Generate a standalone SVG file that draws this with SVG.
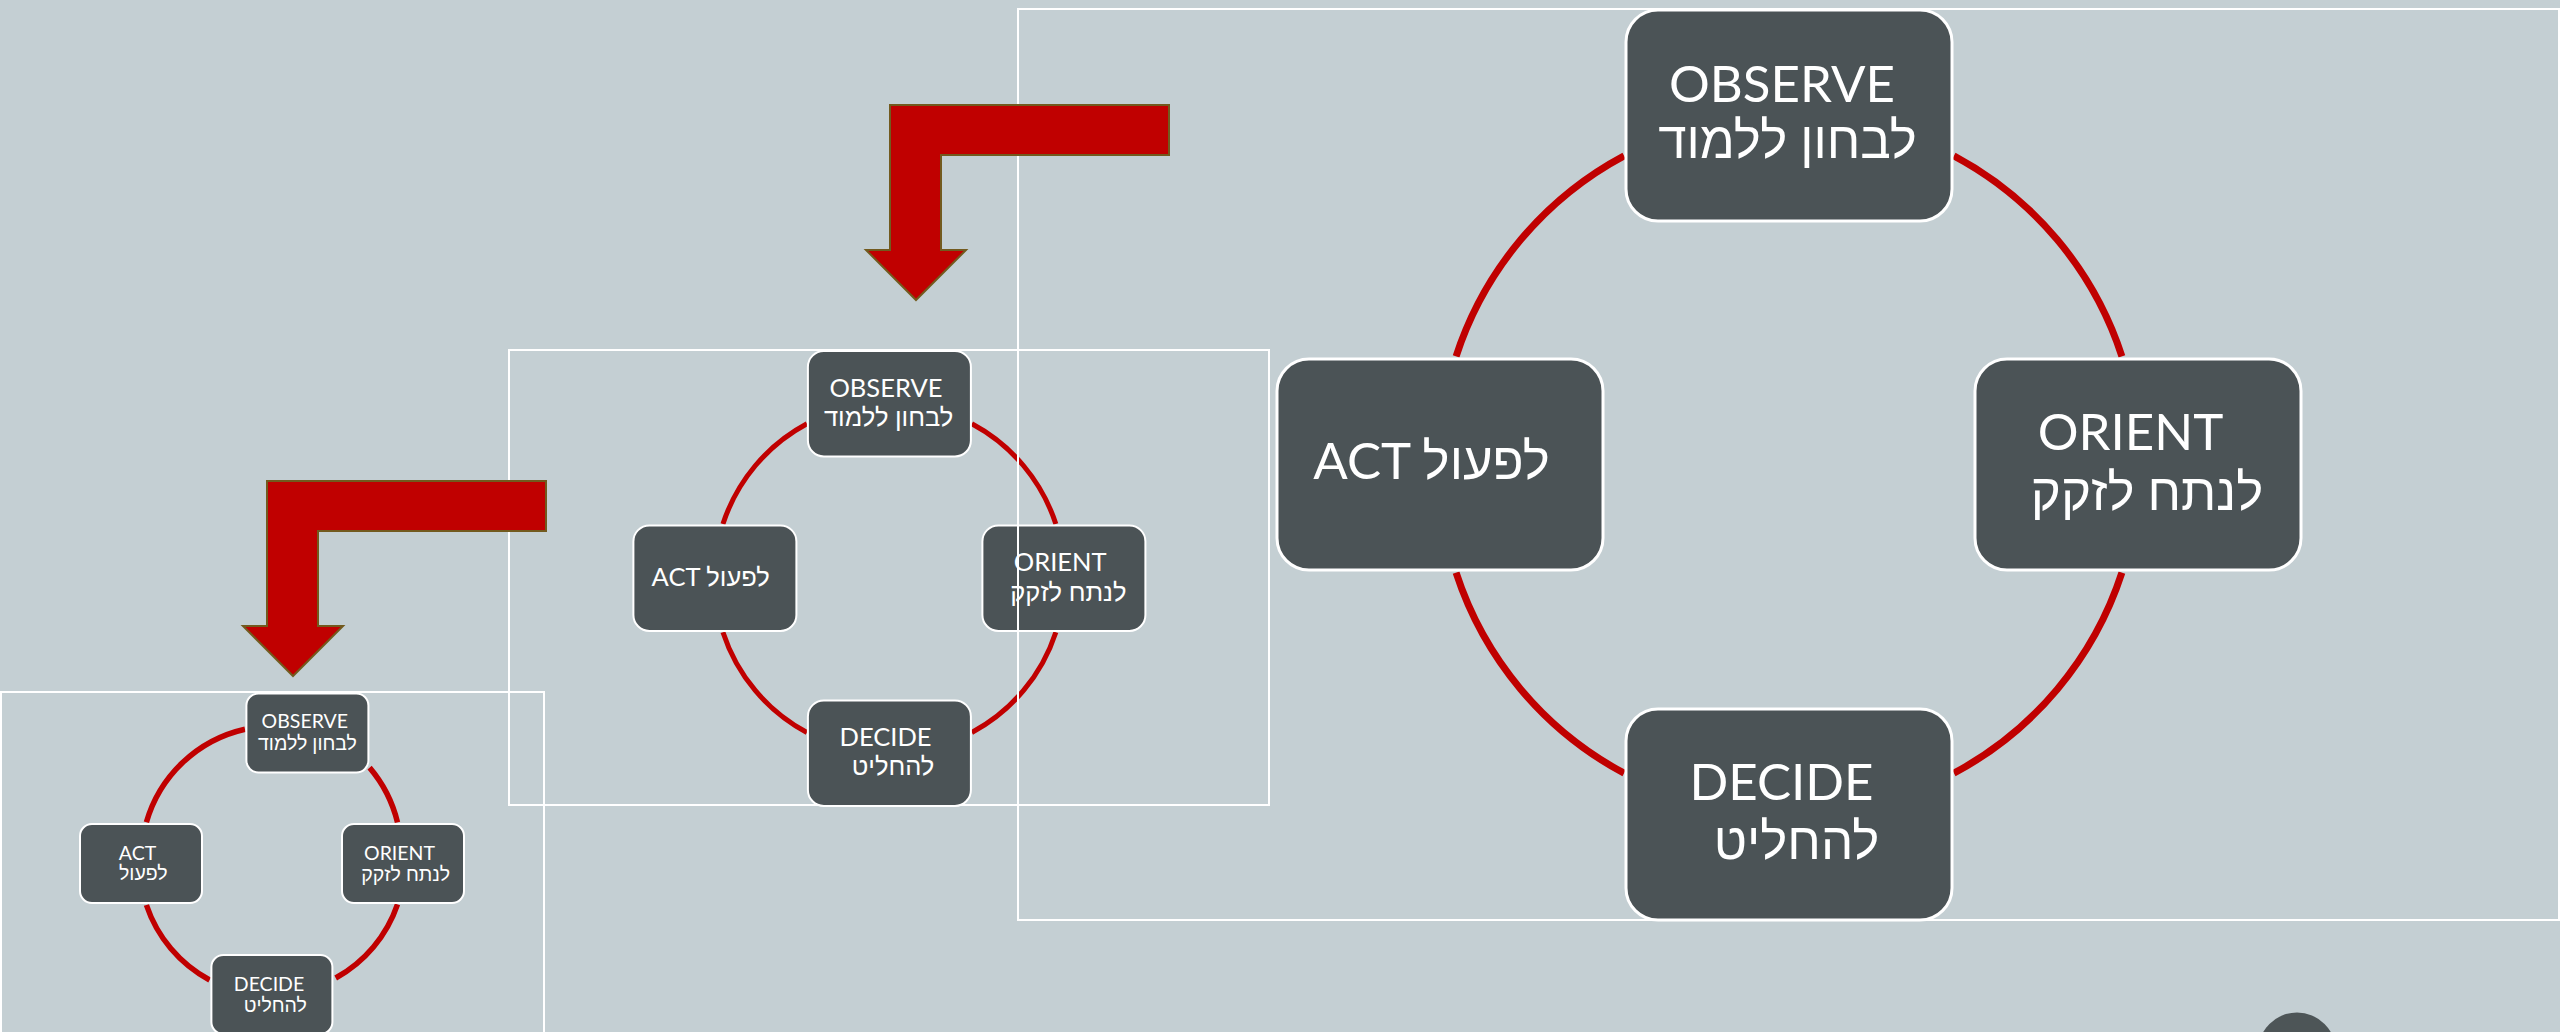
<svg xmlns="http://www.w3.org/2000/svg" width="2560" height="1032" viewBox="0 0 2560 1032">
<defs>
<style>
.bg{fill:#C4CFD3}
.frame{fill:none;stroke:#FFFFFF;stroke-width:2}
.node{fill:#4B5356;stroke:#FFFFFF}
.arc{fill:none;stroke:#C00000}
.t{fill:#FFFFFF;font-family:Lato,"Liberation Sans","DejaVu Sans",sans-serif;text-anchor:middle}
.big{font-size:51px}
.mid{font-size:25.5px}
.sml{font-size:19.5px}
.arrow{fill:#C00000;stroke:#725A1E;stroke-width:2;stroke-linejoin:miter}
</style>
<path id="bent" d="M890 105 H1169 V155 H941 V250 H966 L916 300 L866 250 H890 Z"/>
</defs>
<rect class="bg" x="0" y="0" width="2560" height="1032"/>

<!-- small diagram -->
<g id="small-diagram">
<rect class="frame" x="1" y="692" width="543" height="360"/>
<g id="small-connectors">
<path class="arc" stroke-width="5.5" d="M146.4 822.3 A133 133 0 0 1 245 729.2"/>
<path class="arc" stroke-width="5.5" d="M369.6 767.6 A133 133 0 0 1 397.5 822.3"/>
<path class="arc" stroke-width="5.5" d="M397.5 904.4 A133 133 0 0 1 335.7 978"/>
<path class="arc" stroke-width="5.5" d="M209.6 980 A133 133 0 0 1 146.4 905"/>
</g>
<g id="small-observe">
<rect class="node" stroke-width="2" x="246.4" y="693.5" width="122" height="79" rx="12"/>
<text class="t sml" x="304.8" y="728">OBSERVE</text>
<text class="t sml" x="307.5" y="750">לבחון ללמוד</text>
</g>
<g id="small-orient">
<rect class="node" stroke-width="2" x="342" y="824" width="122" height="79" rx="12"/>
<text class="t sml" x="399.5" y="860">ORIENT</text>
<text class="t sml" x="405.7" y="881">לנתח לזקק</text>
</g>
<g id="small-act">
<rect class="node" stroke-width="2" x="80" y="824" width="122" height="79" rx="12"/>
<text class="t sml" x="137.5" y="860">ACT</text>
<text class="t sml" x="143.3" y="880">לפעול</text>
</g>
<g id="small-decide">
<rect class="node" stroke-width="2" x="211.4" y="955" width="121" height="79" rx="12"/>
<text class="t sml" x="269" y="991">DECIDE</text>
<text class="t sml" x="275.3" y="1011.5">להחליט</text>
</g>
</g>

<!-- medium diagram -->
<g id="medium-diagram">
<rect class="frame" x="509" y="350" width="760" height="455"/>
<g id="medium-connectors">
<path class="arc" stroke-width="5" d="M971.85 423.75 A175 175 0 0 1 1055.85 524"/>
<path class="arc" stroke-width="5" d="M1055.85 632.2 A175 175 0 0 1 971.85 732.45"/>
<path class="arc" stroke-width="5" d="M806.95 732.45 A175 175 0 0 1 722.95 632.2"/>
<path class="arc" stroke-width="5" d="M722.95 524 A175 175 0 0 1 806.95 423.75"/>
</g>
<g id="medium-observe">
<rect class="node" stroke-width="2" x="807.9" y="350.9" width="163" height="105.5" rx="16"/>
<text class="t mid" x="885.9" y="396.8">OBSERVE</text>
<text class="t mid" x="888.6" y="425.5">לבחון ללמוד</text>
</g>
<g id="medium-orient">
<rect class="node" stroke-width="2" x="982.4" y="525.4" width="163" height="105.5" rx="16"/>
<text class="t mid" x="1060.2" y="570.9">ORIENT</text>
<text class="t mid" x="1068.4" y="600.9">לנתח לזקק</text>
</g>
<g id="medium-act">
<rect class="node" stroke-width="2" x="633.4" y="525.4" width="163" height="105.5" rx="16"/>
<text class="t mid" x="710.7" y="585.5">ACT לפעול</text>
</g>
<g id="medium-decide">
<rect class="node" stroke-width="2" x="807.9" y="700.4" width="163" height="105.5" rx="16"/>
<text class="t mid" x="885.6" y="746">DECIDE</text>
<text class="t mid" x="893" y="775.4">להחליט</text>
</g>
</g>

<!-- large diagram -->
<g id="large-diagram">
<rect class="frame" x="1018" y="9" width="1541" height="911"/>
<g id="large-connectors">
<path class="arc" stroke-width="7" d="M1953.9 155.8 A350 350 0 0 1 2121.9 356.3"/>
<path class="arc" stroke-width="7" d="M2121.9 572.7 A350 350 0 0 1 1953.9 773.2"/>
<path class="arc" stroke-width="7" d="M1624.1 773.2 A350 350 0 0 1 1456.1 572.7"/>
<path class="arc" stroke-width="7" d="M1456.1 356.3 A350 350 0 0 1 1624.1 155.8"/>
</g>
<g id="large-observe">
<rect class="node" stroke-width="3" x="1626" y="10" width="326" height="211" rx="32"/>
<text class="t big" x="1782" y="102">OBSERVE</text>
<text class="t big" x="1787.5" y="158">לבחון ללמוד</text>
</g>
<g id="large-orient">
<rect class="node" stroke-width="3" x="1975" y="359" width="326" height="211" rx="32"/>
<text class="t big" x="2130.5" y="450">ORIENT</text>
<text class="t big" x="2147" y="510">לנתח לזקק</text>
</g>
<g id="large-act">
<rect class="node" stroke-width="3" x="1277" y="359" width="326" height="211" rx="32"/>
<text class="t big" x="1431.5" y="479">ACT לפעול</text>
</g>
<g id="large-decide">
<rect class="node" stroke-width="3" x="1626" y="709" width="326" height="211" rx="32"/>
<text class="t big" x="1781.5" y="800">DECIDE</text>
<text class="t big" x="1796.5" y="859">להחליט</text>
</g>
</g>

<!-- bent arrows -->
<g id="arrows">
<use href="#bent" class="arrow"/>
<use href="#bent" class="arrow" transform="translate(-623 376)"/>
</g>

<circle id="slide-number" cx="2297" cy="1051.5" r="39" fill="#4D5557"/>
</svg>
